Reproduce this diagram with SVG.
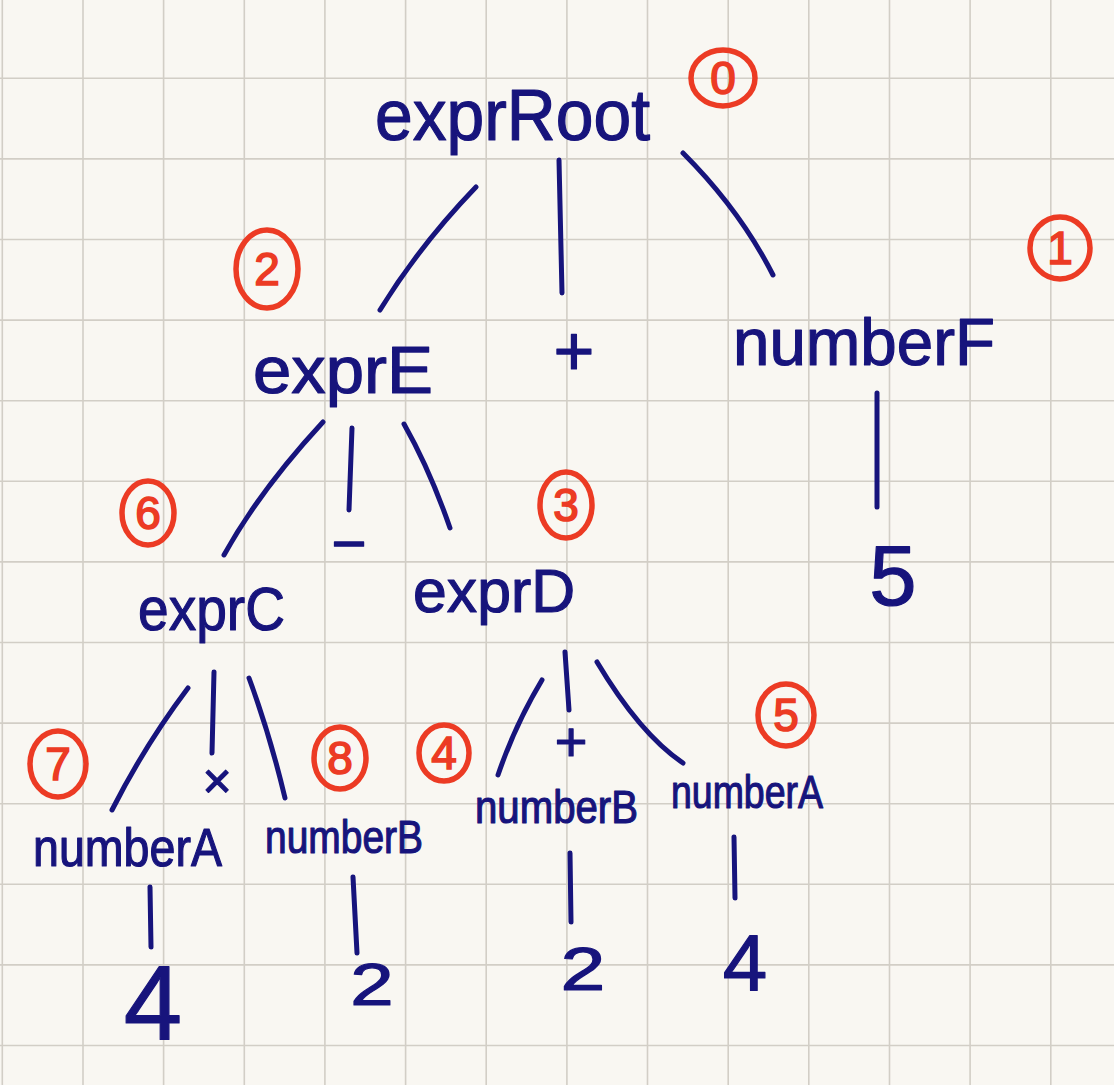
<svg xmlns="http://www.w3.org/2000/svg" width="1114" height="1085" viewBox="0 0 1114 1085">
<style>
.ink{font-family:"Liberation Sans","DejaVu Sans",sans-serif;fill:#17147c;stroke:#17147c;stroke-width:1.2;stroke-linejoin:round}
.red{font-family:"Liberation Sans","DejaVu Sans",sans-serif;fill:#ec3b24;stroke:#ec3b24;stroke-width:1.6;font-size:46px;text-anchor:middle}
.ring{fill:none;stroke:#ec3b24;stroke-width:5.5}
.edge{fill:none;stroke:#17147c;stroke-width:5;stroke-linecap:round}
.grid{fill:none;stroke:#d2cec6;stroke-width:1.6}
</style>
<rect width="1114" height="1085" fill="#f9f7f2"/>
<path class="grid" d="M2.3 0V1085M83 0V1085M163.6 0V1085M244.3 0V1085M324.9 0V1085M405.6 0V1085M486.2 0V1085M566.9 0V1085M647.5 0V1085M728.2 0V1085M808.8 0V1085M889.5 0V1085M970.1 0V1085M1050.8 0V1085M0 78.3H1114M0 158.9H1114M0 239.5H1114M0 320.1H1114M0 400.7H1114M0 481.3H1114M0 561.9H1114M0 642.5H1114M0 723.1H1114M0 803.7H1114M0 884.3H1114M0 964.9H1114M0 1045.5H1114"/>
<g id="connectors">
<path class="edge" d="M476 187Q420 245 380 310"/>
<path class="edge" d="M559 160L562 293"/>
<path class="edge" d="M683 153Q740 210 773 275"/>
<path class="edge" d="M877 393L877 507"/>
<path class="edge" d="M323 422Q260 490 224 555"/>
<path class="edge" d="M352 428L349 510"/>
<path class="edge" d="M404 424Q430 470 450 528"/>
<path class="edge" d="M188 688Q145 745 112 810"/>
<path class="edge" d="M214 672L212 753"/>
<path class="edge" d="M249 678Q270 735 285 798"/>
<path class="edge" d="M542 680Q515 725 498 775"/>
<path class="edge" d="M565 652L569 710"/>
<path class="edge" d="M597 662Q640 734 683 763"/>
<path class="edge" d="M150 887L151 947"/>
<path class="edge" d="M353 877L357 953"/>
<path class="edge" d="M570 853L571 922"/>
<path class="edge" d="M734 837L735 898"/>
</g>
<g id="exprRoot"><text class="ink" x="375" y="140" font-size="72" textLength="275" lengthAdjust="spacingAndGlyphs">exprRoot</text></g>
<g id="badge0"><ellipse class="ring" cx="723" cy="78" rx="32" ry="28"/><text class="red" x="723" y="94">0</text></g>
<g id="badge1"><ellipse class="ring" cx="1060" cy="248" rx="30" ry="31"/><text class="red" x="1060" y="264">1</text></g>
<g id="badge2"><ellipse class="ring" cx="267" cy="269" rx="31" ry="39"/><text class="red" x="267" y="285">2</text></g>
<g id="exprE"><text class="ink" x="253" y="393" font-size="66" textLength="180" lengthAdjust="spacingAndGlyphs">exprE</text></g>
<g id="plus1"><text class="ink" x="574" y="375" font-size="70" text-anchor="middle">+</text></g>
<g id="numberF"><text class="ink" x="733" y="365" font-size="66" textLength="262" lengthAdjust="spacingAndGlyphs">numberF</text></g>
<g id="five"><text class="ink" x="893" y="605" font-size="85" text-anchor="middle">5</text></g>
<g id="minus"><text class="ink" x="349" y="564" font-size="60" text-anchor="middle">−</text></g>
<g id="badge6"><ellipse class="ring" cx="148" cy="513" rx="26" ry="32"/><text class="red" x="148" y="529">6</text></g>
<g id="badge3"><ellipse class="ring" cx="566" cy="505" rx="26" ry="33"/><text class="red" x="566" y="521">3</text></g>
<g id="exprC"><text class="ink" x="138" y="630" font-size="62" textLength="147" lengthAdjust="spacingAndGlyphs">exprC</text></g>
<g id="exprD"><text class="ink" x="413" y="612" font-size="62" textLength="162" lengthAdjust="spacingAndGlyphs">exprD</text></g>
<g id="times"><text class="ink" x="217" y="798" font-size="50" text-anchor="middle">×</text></g>
<g id="plus2"><text class="ink" x="571" y="761" font-size="56" text-anchor="middle">+</text></g>
<g id="badge7"><ellipse class="ring" cx="58" cy="764" rx="28" ry="33"/><text class="red" x="58" y="780">7</text></g>
<g id="badge8"><ellipse class="ring" cx="340" cy="758" rx="26" ry="31"/><text class="red" x="340" y="774">8</text></g>
<g id="badge4"><ellipse class="ring" cx="444" cy="753" rx="25" ry="28"/><text class="red" x="444" y="769">4</text></g>
<g id="badge5"><ellipse class="ring" cx="786" cy="715" rx="28" ry="31"/><text class="red" x="786" y="731">5</text></g>
<g id="numberA1"><text class="ink" x="33" y="866" font-size="54" textLength="189" lengthAdjust="spacingAndGlyphs">numberA</text></g>
<g id="numberB1"><text class="ink" x="265" y="853" font-size="46" textLength="158" lengthAdjust="spacingAndGlyphs">numberB</text></g>
<g id="numberB2"><text class="ink" x="475" y="823" font-size="46" textLength="163" lengthAdjust="spacingAndGlyphs">numberB</text></g>
<g id="numberA2"><text class="ink" x="671" y="808" font-size="46" textLength="152" lengthAdjust="spacingAndGlyphs">numberA</text></g>
<g id="four1"><text class="ink" x="153" y="1040" font-size="105" text-anchor="middle">4</text></g>
<g id="two1"><text class="ink" transform="translate(372 1005) scale(1.3 1)" x="0" y="0" font-size="60" text-anchor="middle">2</text></g>
<g id="two2"><text class="ink" transform="translate(583 990) scale(1.3 1)" x="0" y="0" font-size="62" text-anchor="middle">2</text></g>
<g id="four2"><text class="ink" x="745" y="990" font-size="80" text-anchor="middle">4</text></g>
</svg>
